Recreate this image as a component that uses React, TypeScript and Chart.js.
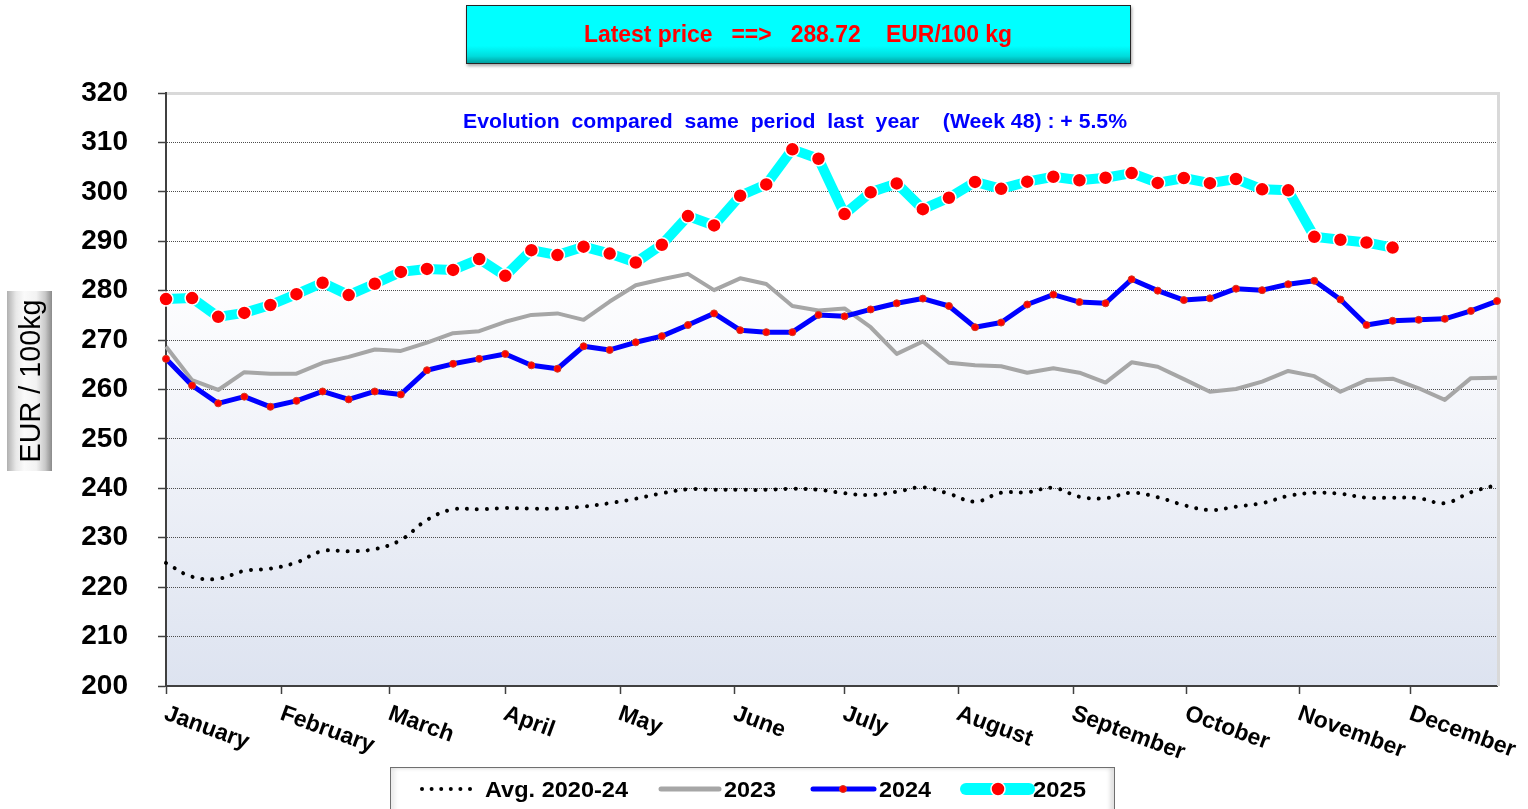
import React, { useEffect, useRef } from "react";
import { Chart, registerables } from "chart.js";

Chart.register(...registerables);

// ---------- DATA ----------
const monthLabels = [
  "January", "February", "March", "April", "May", "June",
  "July", "August", "September", "October", "November", "December",
];
// month starts expressed in week index (x axis = week 1..52 -> 0..51)
const monthTickWeeks = [0, 4.44, 8.58, 13.0, 17.4, 21.8, 26.0, 30.36, 34.76, 39.1, 43.43, 47.7];

const yMin = 200;
const yMax = 320;
const yStep = 10;

const avg2020_24 = [
  224.9, 222.1, 221.7, 223.3, 223.75, 225.0, 227.3, 227.25, 227.7, 229.55,
  233.6, 235.75, 235.75, 236.0, 235.9, 235.9, 236.3, 237.0, 237.9, 239.0,
  239.8, 239.7, 239.7, 239.7, 239.9, 239.7, 239.0, 238.65, 239.3, 240.2,
  238.9, 237.3, 239.1, 239.2, 240.1, 238.3, 238.0, 239.1, 238.2, 236.6,
  235.6, 236.3, 237.0, 238.45, 239.1, 238.9, 238.1, 238.1, 238.0, 237.0,
  239.2, 240.7,
];

const prices2023 = [
  268.7, 261.9, 259.9, 263.5, 263.2, 263.2, 265.4, 266.6, 268.1, 267.8,
  269.5, 271.4, 271.8, 273.7, 275.1, 275.4, 274.1, 277.8, 281.1, 282.3,
  283.4, 280.1, 282.5, 281.35, 276.9, 276.0, 276.4, 272.6, 267.2, 269.7,
  265.4, 264.9, 264.7, 263.4, 264.3, 263.4, 261.4, 265.5, 264.6, 262.1,
  259.55, 260.1, 261.6, 263.75, 262.7, 259.55, 261.9, 262.2, 260.25, 257.9,
  262.3, 262.4,
];

const prices2024 = [
  266.2, 260.8, 257.2, 258.55, 256.5, 257.7, 259.6, 258.0, 259.6, 259.0,
  263.9, 265.2, 266.2, 267.2, 264.9, 264.2, 268.75, 268.0, 269.55, 270.8,
  273.05, 275.4, 272.0, 271.6, 271.6, 275.1, 274.8, 276.2, 277.45, 278.4,
  276.9, 272.6, 273.55, 277.2, 279.2, 277.7, 277.45, 282.3, 280.0, 278.1,
  278.45, 280.4, 280.1, 281.3, 282.0, 278.2, 273.05, 273.9, 274.1, 274.3,
  275.9, 277.9,
];

const prices2025 = [
  278.3, 278.5, 274.7, 275.5, 277.1, 279.3, 281.6, 279.1, 281.4, 283.8,
  284.4, 284.2, 286.4, 283.0, 288.2, 287.2, 288.9, 287.5, 285.7, 289.3,
  295.1, 293.2, 299.2, 301.5, 308.6, 306.7, 295.5, 299.9, 301.7, 296.5,
  298.8, 302.0, 300.6, 302.05, 303.05, 302.35, 302.85, 303.8, 301.8, 302.8,
  301.75, 302.6, 300.5, 300.3, 290.9, 290.3, 289.75, 288.72,
];

const titleText = "Latest price   ==>   288.72    EUR/100 kg";
const evolutionText = "Evolution  compared  same  period  last  year    (Week 48) : + 5.5%";
const yAxisTitle = "EUR / 100kg";
const legendLabels = ["Avg. 2020-24", "2023", "2024", "2025"];

const FONT = '"Liberation Sans", Arial, sans-serif';
const NARROW = '"Liberation Sans Narrow", "Liberation Sans", Arial, sans-serif';

const toXY = (arr: number[]) => arr.map((v, i) => ({ x: i, y: v }));

export default function App() {
  const canvasRef = useRef<HTMLCanvasElement | null>(null);

  useEffect(() => {
    const canvas = canvasRef.current;
    if (!canvas) return;

    const decoPlugin = {
      id: "deco",
      beforeDraw(chart: any) {
        const { ctx, chartArea: a, scales } = chart;
        const y280 = scales.y.getPixelForValue(280);
        ctx.save();
        ctx.fillStyle = "#ffffff";
        ctx.fillRect(a.left, a.top, a.right - a.left, y280 - a.top);
        const g = ctx.createLinearGradient(0, y280, 0, a.bottom);
        g.addColorStop(0, "#fdfdfe");
        g.addColorStop(1, "#dde3f0");
        ctx.fillStyle = g;
        ctx.fillRect(a.left, y280, a.right - a.left, a.bottom - y280);
        ctx.restore();
      },
      beforeDatasetsDraw(chart: any) {
        const { ctx, chartArea: a } = chart;
        ctx.save();
        ctx.strokeStyle = "#d9d9d9";
        ctx.lineWidth = 3;
        ctx.beginPath();
        ctx.moveTo(a.left + 1, a.top + 0.5);
        ctx.lineTo(a.right + 1.5, a.top + 0.5);
        ctx.lineTo(a.right + 1.5, a.bottom);
        ctx.stroke();
        ctx.restore();
      },
      afterDraw(chart: any) {
        const { ctx, chartArea: a, scales } = chart;
        ctx.save();
        ctx.font = `bold 23px ${FONT}`;
        ctx.fillStyle = "#000000";
        ctx.textAlign = "left";
        ctx.textBaseline = "alphabetic";
        monthTickWeeks.forEach((w, i) => {
          const px = scales.x.getPixelForValue(w);
          ctx.save();
          ctx.translate(px - 3, a.bottom + 33);
          ctx.rotate((20 * Math.PI) / 180);
          ctx.fillText(monthLabels[i], 0, 0);
          ctx.restore();
        });
        ctx.restore();
      },
    };

    const chart = new Chart(canvas, {
      type: "line",
      data: {
        datasets: [
          {
            label: "2025",
            data: toXY(prices2025),
            borderColor: "#00ffff",
            borderWidth: 10,
            borderJoinStyle: "round",
            pointRadius: 7,
            pointBackgroundColor: "#ff0000",
            pointBorderColor: "#ffffff",
            pointBorderWidth: 1.5,
            tension: 0,
            clip: false,
          },
          {
            label: "2024",
            data: toXY(prices2024),
            borderColor: "#0000ff",
            borderWidth: 5,
            borderJoinStyle: "round",
            pointRadius: 3.5,
            pointBackgroundColor: "#ff0000",
            pointBorderColor: "#d23c1e",
            pointBorderWidth: 1,
            tension: 0,
            clip: false,
          },
          {
            label: "2023",
            data: toXY(prices2023),
            borderColor: "#a6a6a6",
            borderWidth: 4,
            borderJoinStyle: "round",
            pointRadius: 0,
            tension: 0,
            clip: false,
          },
          {
            label: "Avg. 2020-24",
            data: toXY(avg2020_24),
            borderColor: "#000000",
            borderWidth: 4,
            borderDash: [0.01, 10],
            borderCapStyle: "round",
            pointRadius: 0,
            tension: 0.4,
            clip: false,
          },
        ] as any,
      },
      options: {
        responsive: false,
        animation: false,
        devicePixelRatio: 1,
        layout: { padding: { top: 93, right: 31, left: 0, bottom: 0 } },
        plugins: { legend: { display: false }, tooltip: { enabled: false } },
        scales: {
          x: {
            type: "linear",
            min: 0,
            max: 51,
            afterBuildTicks: (s: any) => {
              s.ticks = monthTickWeeks.map((v) => ({ value: v }));
            },
            afterFit: (s: any) => {
              s.height = 123;
            },
            ticks: { display: false },
            grid: {
              drawOnChartArea: false,
              drawTicks: true,
              tickLength: 8,
              tickColor: "#404040",
              tickWidth: 1.5,
            },
            border: { color: "#404040", width: 2 },
          },
          y: {
            min: yMin,
            max: yMax,
            afterFit: (s: any) => {
              s.width = 166;
            },
            ticks: {
              stepSize: yStep,
              color: "#000000",
              padding: 30,
              font: { family: FONT, size: 28, weight: "bold" },
            },
            grid: {
              color: "#4d4d4d",
              lineWidth: 1,
              tickLength: 8,
              tickColor: "#404040",
              tickWidth: 1.5,
              tickBorderDash: [],
            },
            border: { color: "#404040", width: 2, dash: [1, 1] },
          },
        },
      } as any,
      plugins: [decoPlugin],
    });

    return () => chart.destroy();
  }, []);

  return (
    <div
      style={{
        position: "fixed",
        left: 0,
        top: 0,
        width: 1528,
        height: 809,
        overflow: "hidden",
        background: "#ffffff",
      }}
    >
      <canvas
        ref={canvasRef}
        width={1528}
        height={809}
        style={{ position: "absolute", left: 0, top: 0, display: "block" }}
      />
      {/* title box */}
      <div
        style={{
          position: "absolute",
          left: 466,
          top: 5,
          width: 665,
          height: 59,
          boxSizing: "border-box",
          border: "1.5px solid #262626",
          background:
            "linear-gradient(to bottom, #00ffff 0%, #00ffff 70%, #00dcdc 88%, #00a0a0 100%)",
          boxShadow: "1px 2px 3px rgba(0,0,0,0.35)",
        }}
      />
      {/* y title box */}
      <div
        style={{
          position: "absolute",
          left: 7,
          top: 291,
          width: 45,
          height: 180,
          background:
            "linear-gradient(to right, #b0b0b0 0%, #e8e8e8 20%, #fafafa 38%, #f2f2f2 65%, #c8c8c8 85%, #8a8a8a 100%)",
        }}
      />
      {/* legend box */}
      <div
        style={{
          position: "absolute",
          left: 390,
          top: 767,
          width: 725,
          height: 60,
          boxSizing: "border-box",
          border: "1px solid #6f6f6f",
          background: "#ffffff",
          boxShadow: "inset -4px 0 4px rgba(0,0,0,0.12), inset 4px 0 4px rgba(0,0,0,0.08)",
        }}
      />
      <svg
        width={1528}
        height={809}
        style={{ position: "absolute", left: 0, top: 0, pointerEvents: "none" }}
      >
        <text
          x={584}
          y={42}
          fill="#ff0000"
          fontFamily={NARROW}
          fontWeight="bold"
          fontSize={23}
          textLength={428}
          lengthAdjust="spacingAndGlyphs"
          style={{ whiteSpace: "pre" }}
        >
          {titleText}
        </text>
        <text
          x={463}
          y={127.5}
          fill="#0000ff"
          fontFamily={FONT}
          fontWeight="bold"
          fontSize={21}
          textLength={664}
          lengthAdjust="spacingAndGlyphs"
          style={{ whiteSpace: "pre" }}
        >
          {evolutionText}
        </text>
        <text
          x={40}
          y={381}
          transform="rotate(-90 40 381)"
          textAnchor="middle"
          fill="#000000"
          fontFamily={FONT}
          fontSize={29}
          textLength={163}
          lengthAdjust="spacingAndGlyphs"
        >
          {yAxisTitle}
        </text>
        {/* legend symbols */}
        {[0, 1, 2, 3, 4, 5].map((k) => (
          <circle key={k} cx={422 + k * 9.6} cy={789} r={2} fill="#000000" />
        ))}
        <line x1={661} y1={789} x2={719} y2={789} stroke="#a6a6a6" strokeWidth={5} strokeLinecap="round" />
        <line x1={813} y1={789} x2={874} y2={789} stroke="#0000ff" strokeWidth={5} strokeLinecap="round" />
        <circle cx={843} cy={789} r={3.5} fill="#ff0000" stroke="#d23c1e" strokeWidth={1} />
        <line x1={966} y1={789} x2={1029} y2={789} stroke="#00ffff" strokeWidth={12} strokeLinecap="round" />
        <circle cx={998} cy={789} r={7} fill="#ff0000" stroke="#ffffff" strokeWidth={1.5} />
        {[
          { x: 485, w: 143 },
          { x: 724, w: 52 },
          { x: 879, w: 52 },
          { x: 1033, w: 53 },
        ].map((p, i) => (
          <text
            key={i}
            x={p.x}
            y={797}
            fill="#000000"
            fontFamily={NARROW}
            fontWeight="bold"
            fontSize={22}
            textLength={p.w}
            lengthAdjust="spacingAndGlyphs"
          >
            {legendLabels[i]}
          </text>
        ))}
      </svg>
    </div>
  );
}
